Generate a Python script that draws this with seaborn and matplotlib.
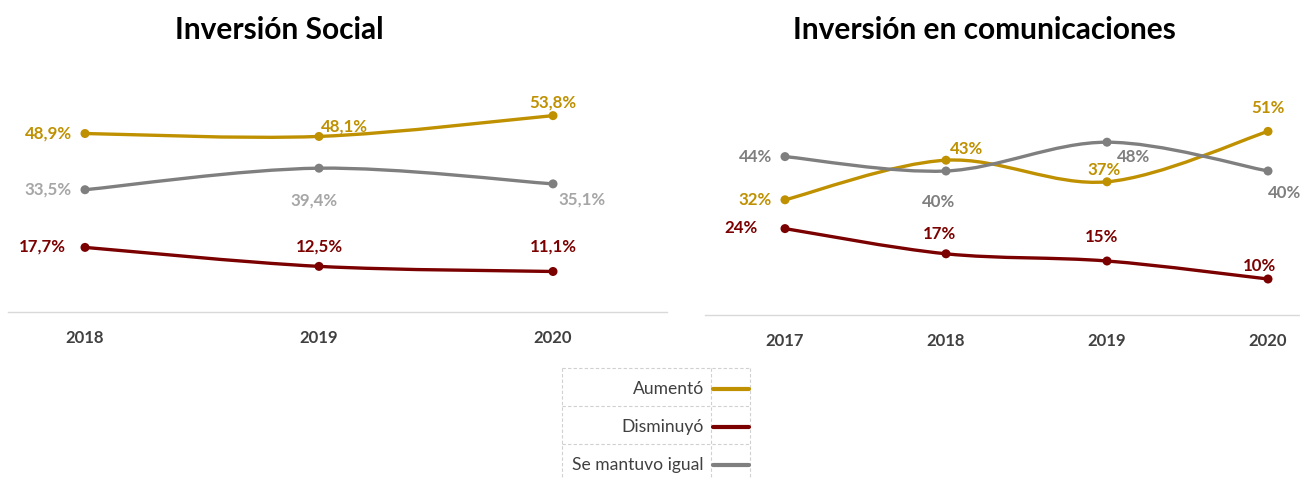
import numpy as np
import pandas as pd
import matplotlib
matplotlib.use("Agg")
import matplotlib.pyplot as plt
from matplotlib.path import Path
from matplotlib.patches import PathPatch
from matplotlib.lines import Line2D
import seaborn as sns

# ---------------- data ----------------
series_names = ["Aumentó", "Disminuyó", "Se mantuvo igual"]

social_years = ["2018", "2019", "2020"]
social_aumento = [48.9, 48.1, 53.8]
social_disminuyo = [17.7, 12.5, 11.1]
social_igual = [33.5, 39.4, 35.1]

com_years = ["2017", "2018", "2019", "2020"]
com_aumento = [32, 43, 37, 51]
com_disminuyo = [24, 17, 15, 10]
com_igual = [44, 40, 48, 40]

titles = ["Inversión Social", "Inversión en comunicaciones"]

# ---------------- style ----------------
sns.set_theme(style="white")
plt.rcParams["font.family"] = ["Lato", "DejaVu Sans"]

GOLD = "#BF9000"
RED = "#7B0000"
GRAY = "#7F7F7F"
LGRAY = "#A6A6A6"
TXT = "#404040"
palette = {series_names[0]: GOLD, series_names[1]: RED, series_names[2]: GRAY}

W, H = 1300, 479
fig = plt.figure(figsize=(W / 100, H / 100), dpi=100)


def px_axes(x0, y0, x1, y1):
    """axes from pixel box (top-left origin)"""
    return fig.add_axes([x0 / W, (H - y1) / H, (x1 - x0) / W, (y1 - y0) / H])


def smooth_path(xs, ys):
    pts = np.column_stack([xs, ys]).astype(float)
    n = len(pts)
    verts = [pts[0]]
    codes = [Path.MOVETO]
    for i in range(n - 1):
        p0 = pts[max(i - 1, 0)]
        p1 = pts[i]
        p2 = pts[i + 1]
        p3 = pts[min(i + 2, n - 1)]
        c1 = p1 + (p2 - p0) / 6.0
        c2 = p2 - (p3 - p1) / 6.0
        verts += [c1, c2, p2]
        codes += [Path.CURVE4] * 3
    return Path(verts, codes)


def draw_panel(ax, years, values, fmt, label_specs, xlim, ylim):
    df = pd.DataFrame({
        "year": np.tile(np.arange(len(years)), len(series_names)),
        "value": np.concatenate(values),
        "serie": np.repeat(series_names, len(years)),
    })
    for name, vals in zip(series_names, values):
        patch = PathPatch(smooth_path(np.arange(len(years)), vals), facecolor="none",
                          edgecolor=palette[name], lw=2.4, capstyle="round",
                          joinstyle="round", zorder=2)
        ax.add_patch(patch)
    sns.scatterplot(data=df, x="year", y="value", hue="serie", palette=palette,
                    s=42, edgecolor="none", legend=False, ax=ax, zorder=3)
    for si, (name, vals) in enumerate(zip(series_names, values)):
        for j, v in enumerate(vals):
            dx, dy, ha, col = label_specs[si][j]
            ax.annotate(fmt(v), (j, v), xytext=(dx, dy), textcoords="offset pixels",
                        ha=ha, va="center", fontsize=12.2, fontweight="bold",
                        color=col, annotation_clip=False, zorder=4)
    ax.set_xlim(*xlim)
    ax.set_ylim(*ylim)
    ax.set_xticks(range(len(years)))
    ax.set_xticklabels(years, fontsize=12, fontweight="bold", color=TXT)
    ax.set_yticks([])
    ax.set_xlabel("")
    ax.set_ylabel("")
    for s in ["top", "left", "right"]:
        ax.spines[s].set_visible(False)
    ax.spines["bottom"].set_color("#D9D9D9")
    ax.spines["bottom"].set_linewidth(1.0)
    ax.tick_params(axis="x", length=0, pad=13)
    ax.set_facecolor("none")


fmt_dec = lambda v: f"{v:.1f}".replace(".", ",") + "%"
fmt_int = lambda v: f"{v:.0f}%"

# left panel
ax1 = px_axes(8, 60, 667, 312)
spec1 = [
    [(-13, 0, "right", GOLD), (2, 10, "left", GOLD), (0, 13, "center", GOLD)],
    [(-19, 1, "right", RED), (0, 20, "center", RED), (0, 25, "center", RED)],
    [(-13, 0, "right", LGRAY), (-5, -32, "center", LGRAY), (29, -16, "center", LGRAY)],
]
draw_panel(ax1, social_years, [social_aumento, social_disminuyo, social_igual],
           fmt_dec, spec1, (-(85 - 8) / 234, 2 + (667 - 553) / 234),
           (0, (312 - 60) / 3.65))

# right panel
ax2 = px_axes(705, 60, 1300, 315)
spec2 = [
    [(-13, 0, "right", GOLD), (21, 11, "center", GOLD), (-3, 12, "center", GOLD), (0, 23, "center", GOLD)],
    [(-27, 1, "right", RED), (-6, 20, "center", RED), (-5, 24, "center", RED), (-8, 13, "center", RED)],
    [(-13, 0, "right", GRAY), (-7, -31, "center", GRAY), (27, -15, "center", GRAY), (17, -22, "center", GRAY)],
]
draw_panel(ax2, com_years, [com_aumento, com_disminuyo, com_igual],
           fmt_int, spec2, (-(785 - 705) / 161, 3 + (1300 - 1268) / 161),
           (0, (315 - 60) / 3.6))

# titles
fig.text(279 / W, 1 - 30 / H, titles[0], ha="center", va="center",
         fontsize=21.5, fontweight="bold", color="black")
fig.text(984 / W, 1 - 30 / H, titles[1], ha="center", va="center",
         fontsize=21.5, fontweight="bold", color="black")

# legend as a dashed-border table
lx0, lx1, ldiv = 562, 750, 711
rows = [368, 406, 444, 482]
lax = px_axes(0, 0, W, H)
lax.set_xlim(0, W)
lax.set_ylim(H, 0)
lax.axis("off")
bc = "#D0D0D0"
for y in rows:
    lax.add_line(Line2D([lx0, lx1], [y, y], color=bc, lw=0.8, ls=(0, (3, 2))))
for x in [lx0, ldiv, lx1]:
    lax.add_line(Line2D([x, x], [rows[0], rows[-1]], color=bc, lw=0.8, ls=(0, (3, 2))))
for i, name in enumerate(series_names):
    yc = rows[i] + 21
    lax.text(ldiv - 7, yc, name, ha="right", va="center", fontsize=12.6, color=TXT)
    lax.add_line(Line2D([ldiv + 2, lx1 - 1], [yc, yc], color=palette[name], lw=3.0))

fig.savefig("out.png", dpi=100, facecolor="white")
